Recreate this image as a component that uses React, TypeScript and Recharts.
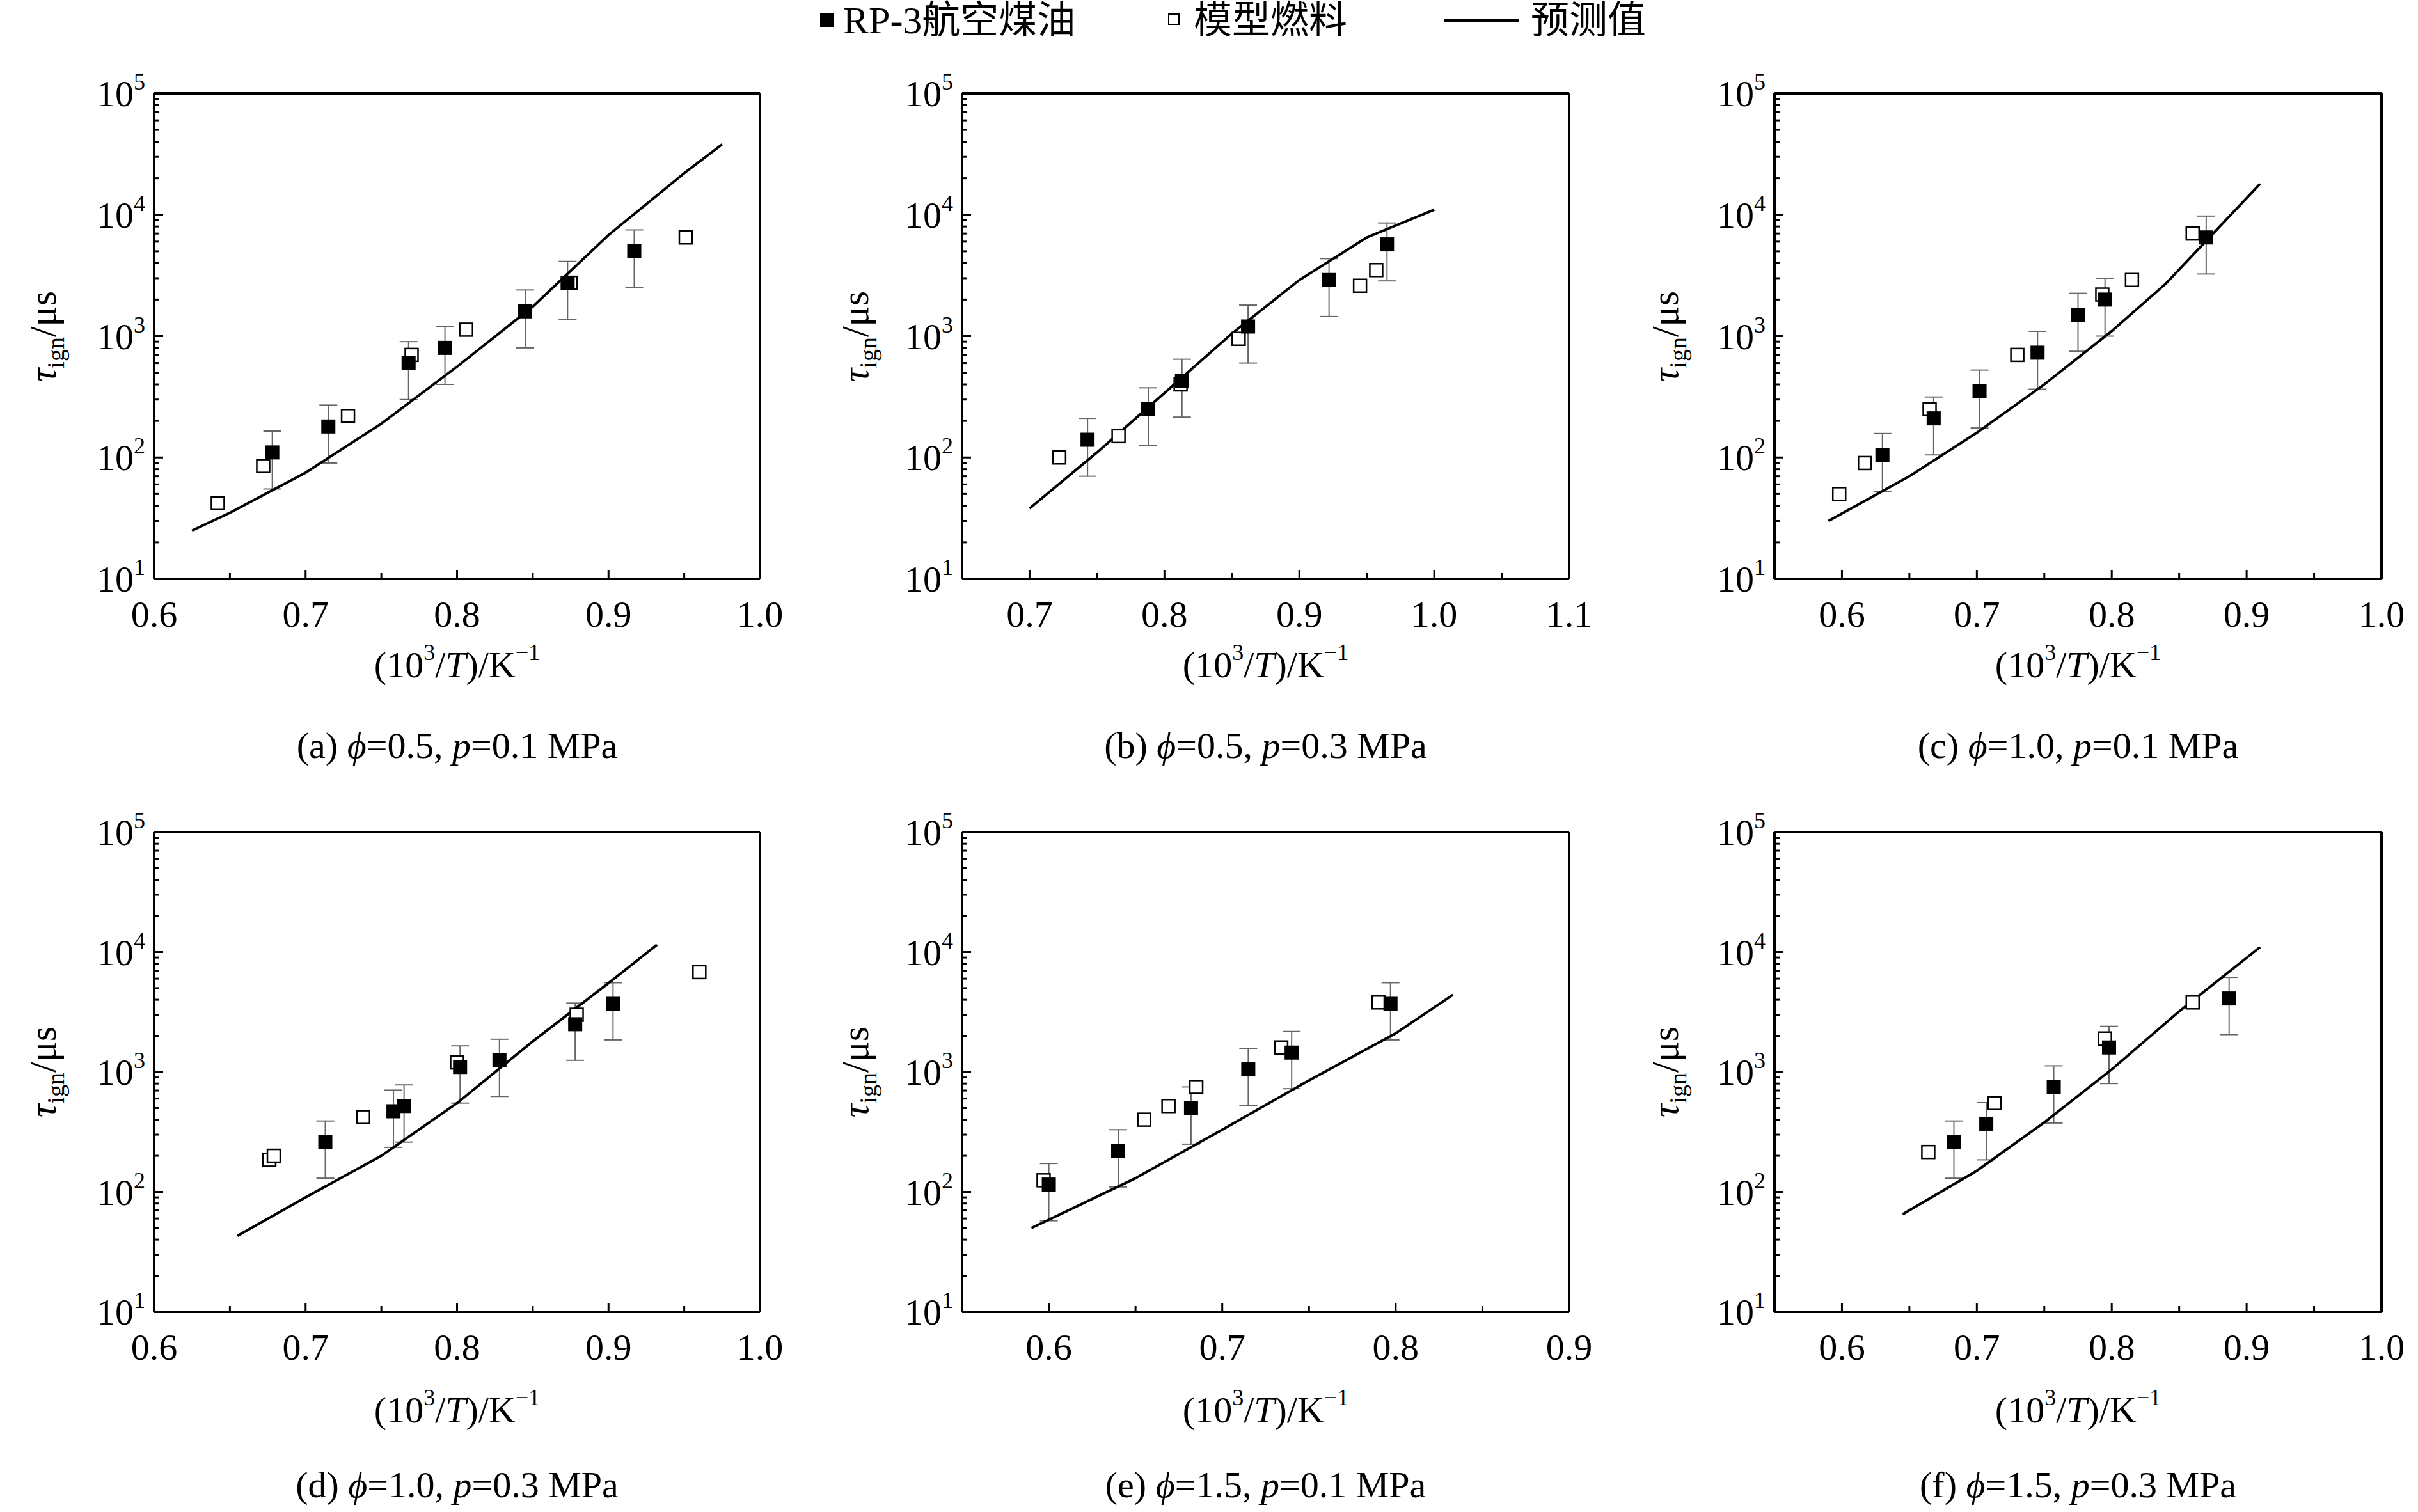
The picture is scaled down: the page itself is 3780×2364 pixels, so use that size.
import React from 'react';
import { ScatterChart, Scatter, XAxis, YAxis, ErrorBar } from 'recharts';

const FONT = "Liberation Serif, DejaVu Serif, Noto Sans CJK SC, serif";
const ERR_FRAC = 0.5;

// Panel (a) phi=0.5, p=0.1 MPa
const aLine = [[0.625, 25], [0.65, 35], [0.7, 75], [0.75, 190], [0.8, 560], [0.85, 1750], [0.9, 6800], [0.95, 22000], [0.975, 38000]];
const aRP3 = [[0.678, 110], [0.715, 180], [0.768, 600], [0.792, 800], [0.845, 1600], [0.873, 2750], [0.917, 5000]];
const aModel = [[0.642, 42], [0.672, 85], [0.728, 220], [0.77, 700], [0.806, 1130], [0.875, 2750], [0.951, 6500]];
// Panel (b) phi=0.5, p=0.3 MPa
const bLine = [[0.7, 38], [0.75, 110], [0.8, 340], [0.85, 1050], [0.9, 2900], [0.95, 6500], [1.0, 11000]];
const bRP3 = [[0.743, 140], [0.788, 250], [0.813, 430], [0.862, 1200], [0.922, 2900], [0.965, 5700]];
const bModel = [[0.722, 100], [0.766, 150], [0.812, 400], [0.855, 950], [0.945, 2600], [0.957, 3500]];
// Panel (c) phi=1.0, p=0.1 MPa
const cLine = [[0.59, 30], [0.65, 70], [0.7, 160], [0.75, 400], [0.8, 1100], [0.84, 2700], [0.91, 18000]];
const cRP3 = [[0.63, 105], [0.668, 210], [0.702, 350], [0.745, 730], [0.775, 1500], [0.795, 2000], [0.87, 6500]];
const cModel = [[0.598, 50], [0.617, 90], [0.665, 250], [0.73, 700], [0.793, 2200], [0.815, 2900], [0.86, 7000]];
// Panel (d) phi=1.0, p=0.3 MPa
const dLine = [[0.655, 43], [0.7, 90], [0.75, 200], [0.8, 550], [0.85, 1800], [0.9, 5500], [0.932, 11500]];
const dRP3 = [[0.713, 260], [0.758, 470], [0.765, 520], [0.802, 1100], [0.828, 1250], [0.878, 2500], [0.903, 3700]];
const dModel = [[0.676, 185], [0.679, 200], [0.738, 420], [0.8, 1200], [0.879, 3000], [0.96, 6800]];
// Panel (e) phi=1.5, p=0.1 MPa
const eLine = [[0.59, 50], [0.65, 130], [0.7, 330], [0.75, 850], [0.8, 2100], [0.833, 4400]];
const eRP3 = [[0.6, 115], [0.64, 220], [0.682, 500], [0.715, 1050], [0.74, 1450], [0.797, 3700]];
const eModel = [[0.597, 125], [0.655, 400], [0.669, 520], [0.685, 750], [0.734, 1600], [0.79, 3800]];
// Panel (f) phi=1.5, p=0.3 MPa
const fLine = [[0.645, 65], [0.7, 150], [0.75, 380], [0.8, 1050], [0.85, 3200], [0.91, 11000]];
const fRP3 = [[0.683, 260], [0.707, 370], [0.757, 750], [0.798, 1600], [0.887, 4100]];
const fModel = [[0.664, 215], [0.713, 550], [0.795, 1900], [0.86, 3800]];

const xTicksA = [0.6, 0.7, 0.8, 0.9, 1.0];
const xTicksB = [0.7, 0.8, 0.9, 1.0, 1.1];
const xTicksE = [0.6, 0.7, 0.8, 0.9];
const yMajor = [10, 100, 1000, 10000, 100000];
const yMinor: number[] = [];
for (let d = 10; d < 100000; d *= 10) for (let m = 2; m <= 9; m++) yMinor.push(d * m);

const toPts = (arr: number[][]) => arr.map(([x, y]) => ({ x, y }));
const toErr = (arr: number[][]) => arr.map(([x, y]) => ({ x, y, err: [y * ERR_FRAC, y * ERR_FRAC] }));

const captions = [
  ['(a) ', '0.5', '0.1'], ['(b) ', '0.5', '0.3'], ['(c) ', '1.0', '0.1'],
  ['(d) ', '1.0', '0.3'], ['(e) ', '1.5', '0.1'], ['(f) ', '1.5', '0.3'],
];

const COLS = [[241, 1188], [1504, 2453], [2774, 3723]];
const ROWS = [[146, 905], [1301, 2051]];
const TITLE_DY = [135, 154];
const CAP_DY = [261, 271];
const YT_X = [67, 1337, 2603];

const panels = [
  { line: aLine, rp3: aRP3, model: aModel, dom: [0.6, 1.0], ticks: xTicksA },
  { line: bLine, rp3: bRP3, model: bModel, dom: [0.65, 1.1], ticks: xTicksB },
  { line: cLine, rp3: cRP3, model: cModel, dom: [0.55, 1.0], ticks: xTicksA },
  { line: dLine, rp3: dRP3, model: dModel, dom: [0.6, 1.0], ticks: xTicksA },
  { line: eLine, rp3: eRP3, model: eModel, dom: [0.55, 0.9], ticks: xTicksE },
  { line: fLine, rp3: fRP3, model: fModel, dom: [0.55, 1.0], ticks: xTicksA },
];

const isIn = (v: number, arr: number[]) => arr.some((t) => Math.abs(t - v) < 1e-6 * Math.max(1, t));

const makeXTick = (majors: number[]) => (props: any) => {
  const { x, y, payload } = props;
  const major = isIn(payload.value, majors);
  return (
    <g>
      <line x1={x} x2={x} y1={y} y2={y - (major ? 14 : 9)} stroke="#000" strokeWidth={3} />
      {major && (
        <text x={x} y={y + 75} textAnchor="middle" fontSize={58} fontFamily={FONT} fill="#000">
          {payload.value.toFixed(1)}
        </text>
      )}
    </g>
  );
};

const YTick = (props: any) => {
  const { x, y, payload } = props;
  const major = isIn(payload.value, yMajor);
  const exp = Math.round(Math.log10(payload.value));
  return (
    <g>
      <line x1={x} x2={x + (major ? 14 : 8)} y1={y} y2={y} stroke="#000" strokeWidth={3} />
      {major && (
        <text x={x - 14} y={y + 20} textAnchor="end" fontSize={58} fontFamily={FONT} fill="#000">
          <tspan>10</tspan>
          <tspan dy={-26} fontSize={36}>{exp}</tspan>
        </text>
      )}
    </g>
  );
};

const FilledSq = (p: any) => <rect x={p.cx - 11} y={p.cy - 11} width={22} height={22} fill="#000" />;
const OpenSq = (p: any) => (
  <rect x={p.cx - 10} y={p.cy - 10} width={20} height={20} fill="#fff" stroke="#000" strokeWidth={2.5} />
);
const NoShape = () => <g />;

const L = 220, R = 80, T = 60, B = 160;
const AX = { stroke: '#000', strokeWidth: 4 };

function Panel({ idx }: { idx: number }) {
  const p = panels[idx];
  const col = COLS[idx % 3];
  const row = ROWS[Math.floor(idx / 3)];
  const pw = col[1] - col[0];
  const ph = row[1] - row[0];
  const minorX: number[] = [];
  for (let v = Math.round(p.dom[0] * 20); v <= Math.round(p.dom[1] * 20); v++) minorX.push(v / 20);
  const cap = captions[idx];
  const cx = (col[0] + col[1]) / 2;
  const r = Math.floor(idx / 3);
  return (
    <>
      <div style={{ position: 'absolute', left: col[0] - L, top: row[0] - T - 1 }}>
        <ScatterChart width={pw + L + R + 1} height={ph + T + B + 1} margin={{ top: T, right: R, bottom: 0, left: 0 }}>
          <XAxis xAxisId="b" type="number" dataKey="x" domain={p.dom} allowDataOverflow ticks={minorX}
            interval={0} height={B} tickSize={0} tickMargin={0} tickLine={false}
            axisLine={AX} tick={makeXTick(p.ticks)} />
          <XAxis xAxisId="t" orientation="top" type="number" dataKey="x" domain={p.dom} allowDataOverflow
            height={1} tick={false} tickLine={false} axisLine={AX} />
          <YAxis yAxisId="l" type="number" dataKey="y" scale="log" domain={[10, 100000]} allowDataOverflow
            ticks={[...yMajor, ...yMinor]} interval={0} width={L} tickSize={0} tickMargin={0} tickLine={false}
            axisLine={AX} tick={YTick} />
          <YAxis yAxisId="r" orientation="right" type="number" dataKey="y" scale="log" domain={[10, 100000]}
            allowDataOverflow width={1} tick={false} tickLine={false} axisLine={AX} />
          <Scatter xAxisId="b" yAxisId="l" data={toPts(p.line)} line={{ stroke: '#000', strokeWidth: 4 }}
            shape={NoShape} isAnimationActive={false} />
          <Scatter xAxisId="b" yAxisId="l" data={toPts(p.model)} shape={OpenSq} isAnimationActive={false} />
          <Scatter xAxisId="b" yAxisId="l" data={toErr(p.rp3)} shape={FilledSq} isAnimationActive={false}>
            <ErrorBar dataKey="err" direction="y" stroke="#666" strokeWidth={2} width={14} />
          </Scatter>
        </ScatterChart>
      </div>
      <div style={{ position: 'absolute', left: cx - 400, width: 800, top: row[1] + TITLE_DY[r] - 40, textAlign: 'center', fontSize: 58, fontFamily: FONT, lineHeight: '80px' }}>
        (10<sup style={{ fontSize: 36, verticalAlign: 'top', lineHeight: '40px' }}>3</sup>/<i>T</i>)/K<sup style={{ fontSize: 36, verticalAlign: 'top', lineHeight: '40px' }}>−1</sup>
      </div>
      <div style={{ position: 'absolute', left: cx - 500, width: 1000, top: row[1] + CAP_DY[r] - 40, textAlign: 'center', fontSize: 58, fontFamily: FONT, lineHeight: '80px' }}>
        {cap[0]}<i>ϕ</i>={cap[1]}, <i>p</i>={cap[2]} MPa
      </div>
      <div style={{ position: 'absolute', left: YT_X[idx % 3] - 200, top: (row[0] + row[1]) / 2 - 40, width: 400, height: 80, textAlign: 'center', fontSize: 60, fontFamily: FONT, lineHeight: '80px', transform: 'rotate(-90deg)' }}>
        <i>τ</i><sub style={{ fontSize: 38 }}>ign</sub>/μs
      </div>
    </>
  );
}

export default function App() {
  return (
    <div style={{ position: 'absolute', left: 0, top: 0, width: 3780, height: 2364, background: '#fff', fontFamily: FONT, color: '#000', overflow: 'hidden' }}>
      <div style={{ position: 'absolute', top: -8, left: 0, width: 3780, height: 80, fontSize: 60, lineHeight: '80px' }}>
        <div style={{ position: 'absolute', left: 1282, top: 28, width: 22, height: 22, background: '#000' }} />
        <div style={{ position: 'absolute', left: 1318, top: 0 }}>RP-3航空煤油</div>
        <div style={{ position: 'absolute', left: 1826, top: 29, width: 18, height: 18, border: '2.5px solid #000', boxSizing: 'border-box' }} />
        <div style={{ position: 'absolute', left: 1866, top: 0 }}>模型燃料</div>
        <div style={{ position: 'absolute', left: 2258, top: 38, width: 116, height: 4, background: '#000' }} />
        <div style={{ position: 'absolute', left: 2393, top: 0 }}>预测值</div>
      </div>
      {panels.map((_, i) => <Panel key={i} idx={i} />)}
    </div>
  );
}
